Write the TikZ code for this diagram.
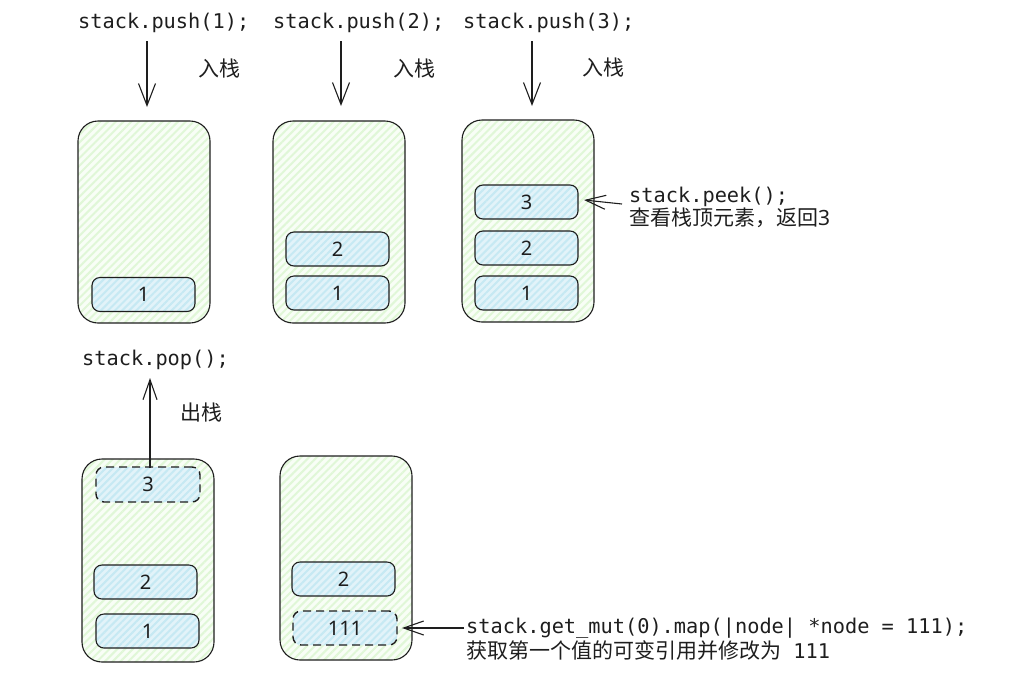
\documentclass[tikz,border=0pt]{standalone}
\usepackage{fontspec}
\setmainfont{Noto Sans}
\newfontfamily\cjk{Noto Sans CJK SC}
\newfontfamily\codefont{DejaVu Sans Mono}
\usetikzlibrary{arrows.meta,patterns.meta}
\definecolor{ink}{HTML}{1E1E1E}
\definecolor{gfill}{RGB}{248,254,246}
\definecolor{gline}{RGB}{224,247,215}
\definecolor{bfill}{RGB}{226,243,249}
\definecolor{bline}{RGB}{198,233,243}
\tikzset{
  stackbox/.style={draw=ink, line width=1.1pt, rounded corners=20pt,
    preaction={fill=gfill},
    preaction={pattern={Lines[angle=45,distance=5.5pt,line width=2pt]}, pattern color=gline},
    minimum width=132pt, minimum height=202pt, inner sep=0pt, outer sep=0pt},
  item/.style={draw=ink, line width=1.1pt, rounded corners=8pt,
    preaction={fill=bfill},
    preaction={pattern={Lines[angle=45,distance=5pt,line width=2pt]}, pattern color=bline},
    minimum width=103pt, minimum height=34pt, inner sep=0pt, outer sep=0pt,
    font=\fontsize{20}{24}\selectfont, text=ink},
  dashitem/.style={item, line width=1.4pt, dash pattern=on 8pt off 5pt},
  code/.style={font=\codefont\fontsize{20.3}{24}\selectfont, text=ink, inner sep=0pt, anchor=base west},
  cn/.style={font=\cjk\fontsize{21}{25}\selectfont, text=ink, inner sep=0pt},
  arr/.style={draw=ink, line width=1.1pt, -{Straight Barb[length=22pt,width=17pt,line width=1.1pt]}},
  arrs/.style={draw=ink, line width=1.1pt, -{Straight Barb[length=20pt,width=14pt,line width=1.1pt]}},
}
\begin{document}
\begin{tikzpicture}[x=1pt,y=-1pt]
\useasboundingbox (0,0) rectangle (1035,673);
% containers
\node[stackbox] (s1) at (144,222) {};
\node[stackbox] (s2) at (339,222) {};
\node[stackbox] (s3) at (528,221) {};
\node[stackbox, minimum height=203pt] (s4) at (148,560.5) {};
\node[stackbox, minimum height=204pt] (s5) at (346,558) {};
% items
\node[item] (a1) at (143.5,294.5) {1};
\node[item] (b2) at (337.5,249) {2};
\node[item] (b1) at (337.5,293) {1};
\node[item] (c3) at (526.5,202) {3};
\node[item] (c2) at (526.5,248) {2};
\node[item] (c1) at (526.5,293) {1};
\node[dashitem, minimum width=104pt, minimum height=35pt] (d3) at (148,484.5) {3};
\node[item] (d2) at (145.5,582) {2};
\node[item] (d1) at (147.5,631) {1};
\node[item] (e2) at (343.5,579) {2};
\node[dashitem, minimum width=104pt] (e111) at (345,628) {111};
% top texts
\node[code] (t1) at (78,28) {stack.push(1);};
\node[code] (t2) at (273,28) {stack.push(2);};
\node[code] (t3) at (463,28) {stack.push(3);};
\node[cn] (l1) at (219,69) {入栈};
\node[cn] (l2) at (414,69) {入栈};
\node[cn] (l3) at (603,68) {入栈};
\coordinate (p1a) at (147,41); \coordinate (p1b) at (147,107);
\coordinate (p2a) at (341,41); \coordinate (p2b) at (341,106);
\coordinate (p3a) at (532,41); \coordinate (p3b) at (532,106);
\draw[arr] (p1a) -- (p1b);
\draw[arr] (p2a) -- (p2b);
\draw[arr] (p3a) -- (p3b);
% peek
\node[code] (pk) at (629,202) {stack.peek();};
\node[cn, anchor=base west] (pkc) at (629,225) {查看栈顶元素，返回{\fontspec{Noto Sans}3}};
\coordinate (pkfrom) at (622,204);
\draw[arrs] (pkfrom) -- ([xshift=6pt,yshift=2pt]c3.east);
% pop
\node[code] (pp) at (82,365) {stack.pop();};
\node[cn] (lo) at (201,413) {出栈};
\coordinate (popfrom) at (150,468);
\coordinate (poptip) at (150,378);
\draw[arrs] (popfrom) -- (poptip);
% get_mut
\node[code] (gm) at (466,633) {stack.get\string_mut(0).map(|node| *node = 111);};
\node[cn, anchor=base west] (gmc) at (466,658) {获取第一个值的可变引用并修改为{\codefont\fontsize{20.3}{24}\selectfont\ 111}};
\coordinate (gmfrom) at (464,628);
\draw[arrs] (gmfrom) -- ([xshift=5pt]e111.east);
\end{tikzpicture}
\end{document}
